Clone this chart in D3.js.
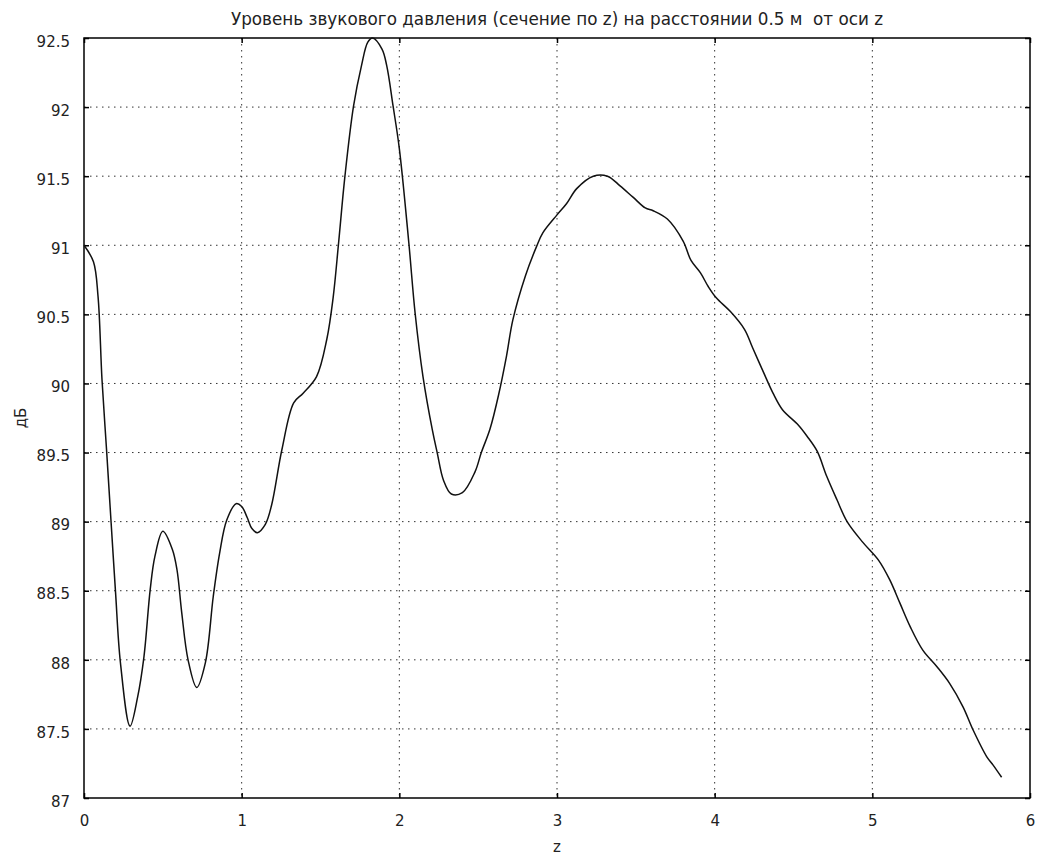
<!DOCTYPE html>
<html>
<head>
<meta charset="utf-8">
<script src="https://cdn.jsdelivr.net/npm/d3@7"></script>
<style>
  html, body { margin: 0; padding: 0; background: #fff; }
  svg { display: block; }
  text { font-family: "DejaVu Sans", Verdana, sans-serif; fill: #222; }
</style>
</head>
<body>
<div id="chart"></div>
<script>
// Sound pressure level along z at 0.5 m from the axis
const zValues = [
  0.00, 0.06, 0.089, 0.114, 0.143, 0.171, 0.200, 0.231, 0.292, 0.34,
  0.38, 0.42, 0.45, 0.50, 0.56, 0.59, 0.62, 0.66, 0.715, 0.77,
  0.82, 0.86, 0.905, 0.965, 1.00, 1.035, 1.065, 1.10, 1.15, 1.19,
  1.255, 1.33, 1.39, 1.475, 1.54, 1.58, 1.615, 1.655, 1.71, 1.76,
  1.80, 1.83, 1.89, 1.92, 1.96, 2.00, 2.06, 2.10, 2.15, 2.21,
  2.24, 2.28, 2.33, 2.40, 2.48, 2.52, 2.575, 2.63, 2.68, 2.72,
  2.80, 2.87, 2.91, 3.00, 3.06, 3.125, 3.23, 3.32, 3.40, 3.48,
  3.56, 3.61, 3.70, 3.80, 3.85, 3.91, 3.96, 4.01, 4.10, 4.19,
  4.24, 4.31, 4.37, 4.43, 4.53, 4.585, 4.65, 4.71, 4.775, 4.84,
  4.94, 5.04, 5.11, 5.175, 5.24, 5.32, 5.41, 5.49, 5.575, 5.64,
  5.725, 5.765, 5.82
];
const levelDb = [
  91.00, 90.88, 90.63, 90.03, 89.52, 89.01, 88.49, 87.98, 87.52, 87.73,
  88.02, 88.51, 88.75, 88.93, 88.80, 88.65, 88.34, 88.00, 87.80, 87.98,
  88.46, 88.77, 89.01, 89.13, 89.11, 89.03, 88.95, 88.92, 88.98, 89.12,
  89.52, 89.86, 89.93, 90.05, 90.32, 90.62, 91.02, 91.50, 92.01, 92.30,
  92.47, 92.50, 92.42, 92.30, 92.01, 91.70, 91.02, 90.51, 90.05, 89.66,
  89.50, 89.30, 89.20, 89.21, 89.36, 89.50, 89.67, 89.92, 90.20, 90.46,
  90.78, 90.99, 91.09, 91.22, 91.30, 91.41, 91.50, 91.50, 91.43, 91.35,
  91.27, 91.25, 91.19, 91.03, 90.89, 90.80, 90.70, 90.62, 90.52, 90.39,
  90.26, 90.08, 89.93, 89.81, 89.70, 89.62, 89.51, 89.33, 89.16, 89.00,
  88.85, 88.72, 88.58, 88.41, 88.24, 88.07, 87.95, 87.83, 87.66, 87.49,
  87.30, 87.24, 87.15
];
const xTicks = [0, 1, 2, 3, 4, 5, 6];
const yTicks = [87, 87.5, 88, 88.5, 89, 89.5, 90, 90.5, 91, 91.5, 92, 92.5];
const titleText = "Уровень звукового давления (сечение по z) на расстоянии 0.5 м  от оси z";
const xLabel = "z";
const yLabel = "дБ";

const W = 1037, H = 859;
const margin = { left: 84, right: 7, top: 38, bottom: 61 };
const innerW = W - margin.left - margin.right;
const innerH = H - margin.top - margin.bottom;

const x = d3.scaleLinear().domain([0, 6]).range([0, innerW]);
const y = d3.scaleLinear().domain([87, 92.5]).range([innerH, 0]);

const svg = d3.select("#chart").append("svg")
  .attr("width", W).attr("height", H);

const g = svg.append("g").attr("transform", `translate(${margin.left},${margin.top})`);

// dotted grid
const gridDash = "1.5,4.5";
g.append("g").selectAll("line").data(xTicks.slice(1, -1)).join("line")
  .attr("x1", d => x(d)).attr("x2", d => x(d))
  .attr("y1", 0).attr("y2", innerH)
  .attr("stroke", "#333").attr("stroke-width", 1)
  .attr("stroke-dasharray", gridDash);
g.append("g").selectAll("line").data(yTicks.slice(1, -1)).join("line")
  .attr("y1", d => y(d)).attr("y2", d => y(d))
  .attr("x1", 0).attr("x2", innerW)
  .attr("stroke", "#333").attr("stroke-width", 1)
  .attr("stroke-dasharray", gridDash);

// axes with inward ticks on all four sides
const tickLen = 5;
const axisStyle = sel => {
  sel.select(".domain").remove();
  sel.selectAll(".tick line").attr("stroke", "#000").attr("stroke-width", 1.5);
  sel.selectAll(".tick text").attr("font-size", 15).attr("fill", "#222")
    .attr("font-family", "DejaVu Sans, Verdana, sans-serif");
};
g.append("g").attr("transform", `translate(0,${innerH})`)
  .call(d3.axisBottom(x).tickValues(xTicks).tickFormat(d3.format("d"))
    .tickSizeInner(-tickLen).tickSizeOuter(0).tickPadding(tickLen + 12))
  .call(axisStyle);
g.append("g")
  .call(d3.axisTop(x).tickValues(xTicks).tickFormat("")
    .tickSizeInner(-tickLen).tickSizeOuter(0))
  .call(axisStyle);
g.append("g")
  .call(d3.axisLeft(y).tickValues(yTicks).tickFormat(d => String(d))
    .tickSizeInner(-tickLen).tickSizeOuter(0).tickPadding(tickLen + 9))
  .call(axisStyle)
  .selectAll(".tick text").attr("dy", "0.55em");
g.append("g").attr("transform", `translate(${innerW},0)`)
  .call(d3.axisRight(y).tickValues(yTicks).tickFormat("")
    .tickSizeInner(-tickLen).tickSizeOuter(0))
  .call(axisStyle);

// frame
g.append("rect")
  .attr("x", 0).attr("y", 0).attr("width", innerW).attr("height", innerH)
  .attr("fill", "none").attr("stroke", "#000").attr("stroke-width", 1.5);

// level curve
const points = zValues.map((z, i) => [z, levelDb[i]]);
g.append("path")
  .datum(points)
  .attr("fill", "none")
  .attr("stroke", "#111")
  .attr("stroke-width", 1.5)
  .attr("stroke-linejoin", "round")
  .attr("d", d3.line().x(d => x(d[0])).y(d => y(d[1])).curve(d3.curveCatmullRom.alpha(0.5)));

// title and axis labels
svg.append("text")
  .attr("x", margin.left + innerW / 2).attr("y", 25)
  .attr("text-anchor", "middle").attr("font-size", 16.8)
  .attr("xml:space", "preserve")
  .text(titleText);
svg.append("text")
  .attr("x", margin.left + innerW / 2).attr("y", 852)
  .attr("text-anchor", "middle").attr("font-size", 15)
  .text(xLabel);
svg.append("text")
  .attr("transform", `translate(26,${margin.top + innerH / 2}) rotate(-90)`)
  .attr("text-anchor", "middle").attr("font-size", 15)
  .text(yLabel);
</script>
</body>
</html>
